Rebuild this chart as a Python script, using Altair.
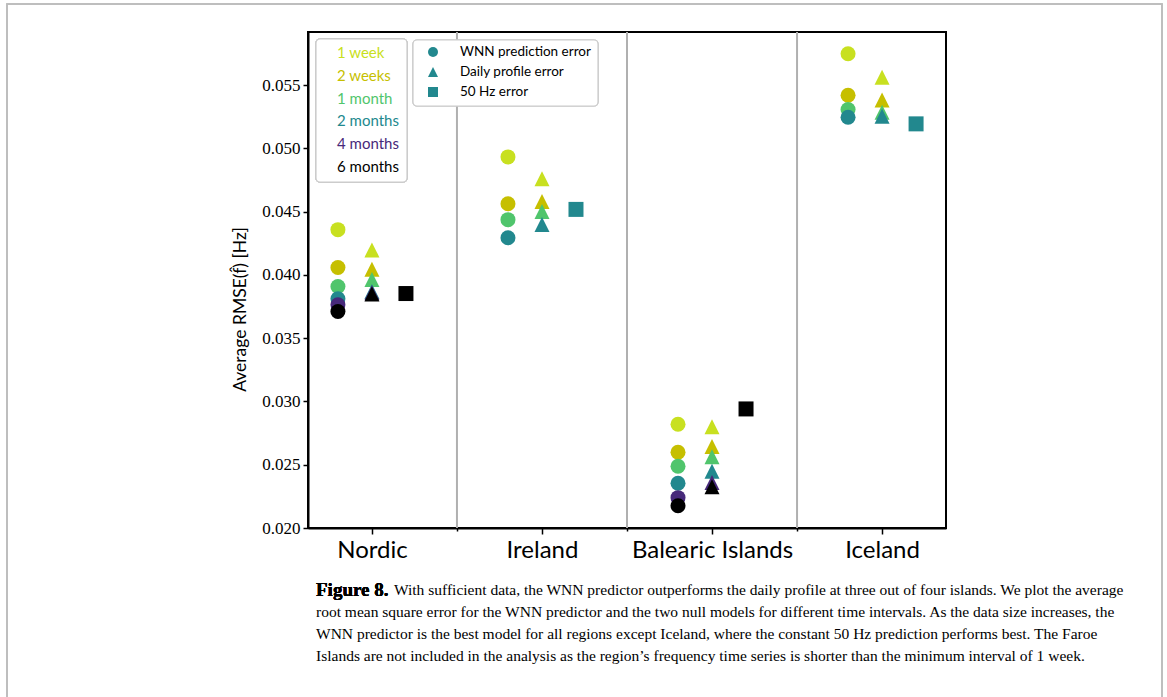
import altair as alt
import pandas as pd

# ---- data -------------------------------------------------------------
regions = ["Nordic", "Ireland", "Balearic Islands", "Iceland"]
intervals = ["1 week", "2 weeks", "1 month", "2 months", "4 months", "6 months"]
interval_colors = ["#c8e020", "#c6bf00", "#50c56c", "#22888e", "#47297a", "#000000"]
models = ["WNN prediction error", "Daily profile error", "50 Hz error"]

# average RMSE [Hz] per time interval (shorter series stop earlier)
wnn = {
    "Nordic": [0.04358, 0.04059, 0.03909, 0.03812, 0.03764, 0.03711],
    "Ireland": [0.04933, 0.04563, 0.04437, 0.04294],
    "Balearic Islands": [0.02820, 0.02599, 0.02488, 0.02354, 0.02240, 0.02176],
    "Iceland": [0.05748, 0.05420, 0.05307, 0.05246],
}
daily = {
    "Nordic": [0.04198, 0.04045, 0.03964, 0.03870, 0.03860, 0.03850],
    "Ireland": [0.04760, 0.04581, 0.04502, 0.04399],
    "Balearic Islands": [0.02801, 0.02645, 0.02564, 0.02449, 0.02360, 0.02326],
    "Iceland": [0.05562, 0.05382, 0.05285, 0.05254],
}
# constant 50 Hz prediction, longest interval available
const50 = {
    "Nordic": 0.03853,
    "Ireland": 0.04518,
    "Balearic Islands": 0.02941,
    "Iceland": 0.05194,
}

y_ticks = [0.020, 0.025, 0.030, 0.035, 0.040, 0.045, 0.050, 0.055]

caption_bold = "Figure 8."
caption_lines = [
    "With sufficient data, the WNN predictor outperforms the daily profile at three out of four islands. We plot the average",
    "root mean square error for the WNN predictor and the two null models for different time intervals. As the data size increases, the",
    "WNN predictor is the best model for all regions except Iceland, where the constant 50 Hz prediction performs best. The Faroe",
    "Islands are not included in the analysis as the region\u2019s frequency time series is shorter than the minimum interval of 1 week.",
]

# ---- tables -----------------------------------------------------------
offset = {models[0]: -0.2, models[1]: 0.0, models[2]: 0.2}
rows = []
for ri, reg in enumerate(regions):
    for m, series in ((models[0], wnn), (models[1], daily)):
        for k, v in enumerate(series[reg]):
            rows.append({"region": reg, "model": m, "interval": intervals[k],
                         "xpos": ri + offset[m], "rmse": v})
    rows.append({"region": reg, "model": models[2],
                 "interval": intervals[len(wnn[reg]) - 1],
                 "xpos": ri + offset[models[2]], "rmse": const50[reg]})
df = pd.DataFrame(rows)

seps = pd.DataFrame({"sep": [i + 0.5 for i in range(len(regions) - 1)]})
leg_int = pd.DataFrame({"interval": intervals, "order": list(range(len(intervals)))})
leg_mod = pd.DataFrame({"model": models, "order": list(range(len(models)))})
cap = pd.DataFrame({"line": caption_lines, "order": list(range(len(caption_lines)))})

SANS = "Lato"
SERIF = "Liberation Serif"
W, H = 638, 496

color_scale = alt.Scale(domain=intervals, range=interval_colors)
shape_scale = alt.Scale(domain=models, range=["circle", "M0,-1L1,1L-1,1Z", "square"])

label_expr = " : ".join(
    f"datum.value == {i} ? '{r}'" for i, r in enumerate(regions)
) + " : ''"

x_enc = alt.X(
    "xpos:Q",
    scale=alt.Scale(domain=[-0.376, 3.376], nice=False, zero=False),
    axis=alt.Axis(
        values=[i * 0.5 for i in range(2 * len(regions) - 1)],
        labelExpr=label_expr,
        tickSize={"condition": {"test": "datum.value % 1 == 0", "value": 6}, "value": 3},
        grid=False, title=None, labelFont=SANS, labelFontSize=24,
        labelPadding=4, labelColor="black", tickColor="black", tickWidth=1.5,
        domainColor="black", domainWidth=2,
    ),
)
y_enc = alt.Y(
    "rmse:Q",
    scale=alt.Scale(domain=[0.020, 0.0592], nice=False, zero=False),
    axis=alt.Axis(
        values=y_ticks, format=".3f", grid=False,
        title="Average RMSE(f\u0302) [Hz]", titleFont=SANS, titleFontSize=17.5,
        titleFontWeight="normal", titleColor="black",
        titleX=-68, titleY=277, titleAngle=-90, titleAlign="center", titleBaseline="middle",
        labelFont=SERIF, labelFontSize=17, labelColor="black", labelPadding=3,
        tickSize=5, tickWidth=1.5, tickColor="black", domainColor="black", domainWidth=2,
    ),
)

# region separators
rules = alt.Chart(seps).mark_rule(color="#b0b0b0", strokeWidth=2).encode(x="sep:Q")

points = alt.Chart(df).mark_point(filled=True, size=225, opacity=1).encode(
    x=x_enc,
    y=y_enc,
    color=alt.Color("interval:N", scale=color_scale, legend=None),
    shape=alt.Shape("model:N", scale=shape_scale, legend=None),
)

# interval legend: coloured labels in a framed box
box1 = alt.Chart(leg_int).mark_rect(
    fill="white", stroke="#cccccc", strokeWidth=1.2, cornerRadius=4
).encode(x=alt.value(8), x2=alt.value(99), y=alt.value(7), y2=alt.value(150))
txt1 = alt.Chart(leg_int).mark_text(
    align="left", baseline="middle", font=SANS, fontSize=15
).transform_calculate(ly="21 + datum.order * 22.8").encode(
    x=alt.value(29),
    y=alt.Y("ly:Q", scale=None),
    text="interval:N",
    color=alt.Color("interval:N", scale=color_scale, legend=None),
)

# model legend: marker + label
box2 = alt.Chart(leg_mod).mark_rect(
    fill="white", stroke="#cccccc", strokeWidth=1.2, cornerRadius=4
).encode(x=alt.value(105), x2=alt.value(290), y=alt.value(8), y2=alt.value(74))
sym2 = alt.Chart(leg_mod).mark_point(
    filled=True, size=100, opacity=1, color=interval_colors[3]
).transform_calculate(ly="20 + datum.order * 20").encode(
    x=alt.value(125),
    y=alt.Y("ly:Q", scale=None),
    shape=alt.Shape("model:N", scale=shape_scale, legend=None),
)
txt2 = alt.Chart(leg_mod).mark_text(
    align="left", baseline="middle", font=SANS, fontSize=13.5, color="black"
).transform_calculate(ly="20 + datum.order * 20").encode(
    x=alt.value(152),
    y=alt.Y("ly:Q", scale=None),
    text="model:N",
)

# caption below the figure
cap_bold = alt.Chart(cap).mark_text(
    align="left", baseline="middle", font=SERIF, fontSize=19, fontWeight="bold",
    color="black", text=caption_bold,
).encode(x=alt.value(8), y=alt.value(558))
cap_txt = alt.Chart(cap).mark_text(
    align="left", baseline="middle", font=SERIF, fontSize=15.5, color="black"
).transform_calculate(
    ly="558 + datum.order * 22", lx="datum.order == 0 ? 86 : 8"
).encode(
    x=alt.X("lx:Q", scale=None),
    y=alt.Y("ly:Q", scale=None),
    text="line:N",
)

frame = alt.Chart(seps).mark_rect(
    fill=None, stroke="#bdbdbd", strokeWidth=1.5
).encode(x=alt.value(-301), x2=alt.value(854), y=alt.value(-28), y2=alt.value(720))

chart = alt.layer(
    frame, rules, points, box1, txt1, box2, sym2, txt2, cap_bold, cap_txt
).properties(
    width=W, height=H,
    autosize=alt.AutoSizeParams(type="none"),
    padding={"left": 308, "top": 32, "right": 1167 - 308 - W, "bottom": 697 - 32 - H},
    background="white",
).configure_view(stroke="black", strokeWidth=2)

chart.save("out.html", embed_options={"renderer": "svg", "actions": False})
